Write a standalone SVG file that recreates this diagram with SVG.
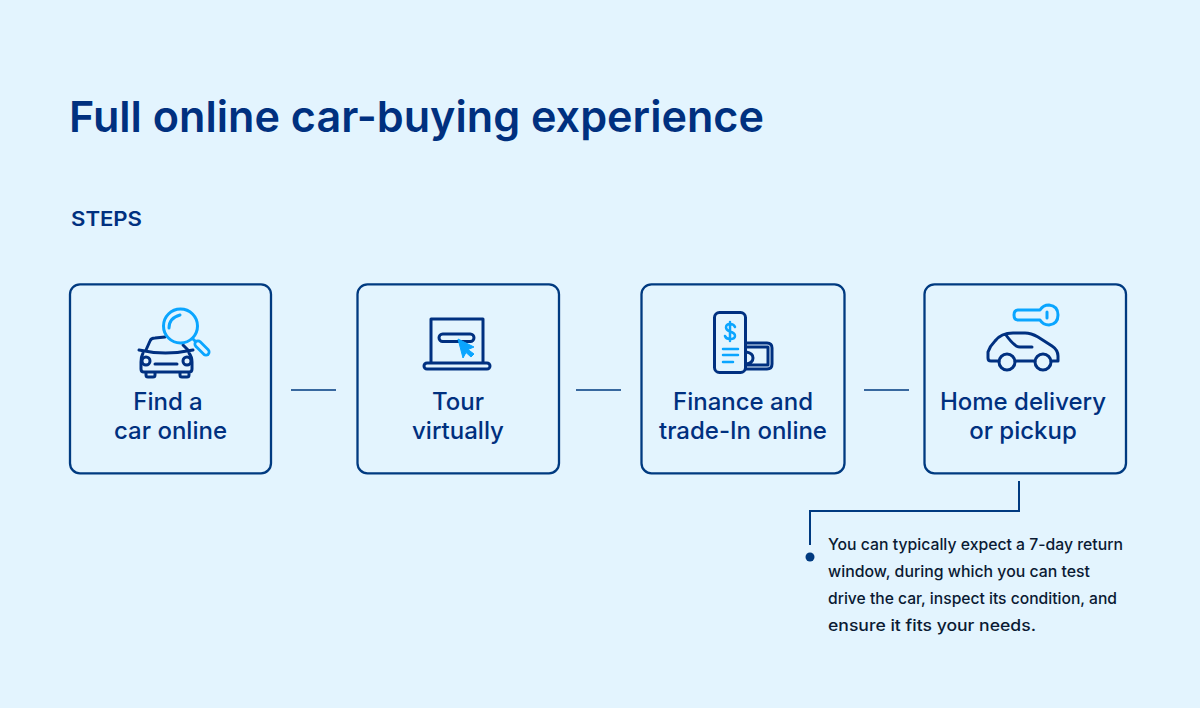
<svg xmlns="http://www.w3.org/2000/svg" width="1200" height="708" viewBox="0 0 1200 708">
<style>
text{font-family:"Inter","Liberation Sans",sans-serif;fill:#00307f}
.box{fill:#e3f4fe;stroke:#003a80;stroke-width:2.300}
.lab{font-size:24px;font-weight:500;text-anchor:middle}
.note{font-size:15.700px;font-weight:500;fill:#0a1a33}
.d{fill:none;stroke:#003080;stroke-width:3;stroke-linecap:round;stroke-linejoin:round}
.l{fill:none;stroke:#0aa5ff;stroke-width:3;stroke-linecap:round;stroke-linejoin:round}
.c{fill:none;stroke:#003a80;stroke-width:1.600}
</style>
<rect width="1200" height="708" fill="#e3f4fe"/>
<text id="title" x="69" y="132" font-size="43" font-weight="600" textLength="695" lengthAdjust="spacingAndGlyphs">Full online car-buying experience</text>
<text id="steps" x="71" y="226" font-size="20" font-weight="600" textLength="71" lengthAdjust="spacingAndGlyphs">STEPS</text>
<g id="connectors">
<path class="c" d="M291 390H336M576 390H621M864 390H909"/>
<path class="c" style="stroke-width:2" d="M1019 481V511H810V545"/>
<circle cx="810" cy="557" r="4.500" fill="#003a80"/>
</g>
<g id="node1">
<rect class="box" x="70" y="284.300" width="201" height="189" rx="10"/>
<path class="d" d="M146 350L150 341Q151 338 155 338L165 337M183 345L188 350M139 350Q165 356 193 350M143 353Q141 357 141 362V369Q141 372 144 372H189Q192 372 192 369V362Q192 357 189 353M155 364H177M146 372V375Q146 377 148 377H153Q155 377 155 375V372M180 372V375Q180 377 182 377H187Q189 377 189 375V372"/>
<circle class="d" cx="146" cy="361" r="4"/><circle class="d" cx="187" cy="361" r="4"/>
<circle class="l" cx="180.500" cy="326" r="17"/>
<path class="l" d="M169 328Q169 318 180 315M193 339L197 343"/>
<path d="M198 344L206 352" stroke="#0aa5ff" stroke-width="9" stroke-linecap="round"/>
<path d="M198 344L206 352" stroke="#e3f4fe" stroke-width="3.500" stroke-linecap="round"/>
<text class="lab" x="168" y="410">Find a</text><text class="lab" x="170.500" y="439">car online</text>
</g>
<g id="node2">
<rect class="box" x="357.500" y="284.300" width="201.500" height="189" rx="10"/>
<path class="d" d="M431 362V319H483V362"/>
<rect class="d" x="424" y="363" width="66" height="6" rx="3"/>
<rect class="d" x="439" y="334" width="35" height="7.500" rx="3.700"/>
<path d="M458 339L474 347L468 349.500L474 354L471 357L466 352.500L463 358Z" fill="#0aa5ff" stroke="#0aa5ff" stroke-linejoin="round"/>
<text class="lab" x="458" y="410">Tour</text><text class="lab" x="458" y="439">virtually</text>
</g>
<g id="node3">
<rect class="box" x="641.500" y="284.300" width="203" height="189" rx="10"/>
<path class="d" d="M746 343H767Q772 343 772 348V364Q772 369 767 369H746M747 347H768V365H746M746 352Q753 353 753 358Q753 363 746 364"/>
<rect class="d" x="714.500" y="312.500" width="31" height="60" rx="5" style="fill:#e3f4fe"/>
<path class="l" style="stroke-width:2.500" d="M735 327Q734 324 730 324Q726 324 726 327.500Q726 330 730 331.500Q735 333 735 336Q735 339 730 339Q726 339 725 336M730 322V341M723 349H738M723 355H738M723 362H733"/>
<text class="lab" x="743" y="410">Finance and</text><text class="lab" x="743" y="439">trade-In online</text>
</g>
<g id="node4">
<rect class="box" x="924.500" y="284.300" width="201.500" height="189" rx="10"/>
<path class="l" d="M1040 310H1018Q1014 310 1014 315Q1014 320 1018 320H1040Q1043 325 1049 325Q1058 324 1058 315Q1058 306 1049 305Q1043 305 1040 310ZM1047 312V318"/>
<path class="d" d="M999 361H991Q988 361 988 358V352Q990 346 995 341Q1001 333 1013 333H1025Q1031 333 1038 337L1052 346Q1058 350 1058 356V361H1051M1035 361H1015M1006 335Q1011 342 1015 345Q1017 347 1020 347H1032"/>
<circle class="d" cx="1007" cy="362" r="8"/><circle class="d" cx="1043" cy="362" r="8"/>
<text class="lab" x="1023" y="410">Home delivery</text><text class="lab" x="1023" y="439">or pickup</text>
</g>
<g id="note">
<text class="note" x="828" y="550" textLength="295" lengthAdjust="spacingAndGlyphs">You can typically expect a 7-day return</text>
<text class="note" x="828" y="577" textLength="262" lengthAdjust="spacingAndGlyphs">window, during which you can test</text>
<text class="note" x="828" y="604" textLength="289" lengthAdjust="spacingAndGlyphs">drive the car, inspect its condition, and</text>
<text class="note" x="828" y="631" textLength="208" lengthAdjust="spacingAndGlyphs">ensure it fits your needs.</text>
</g>
</svg>
